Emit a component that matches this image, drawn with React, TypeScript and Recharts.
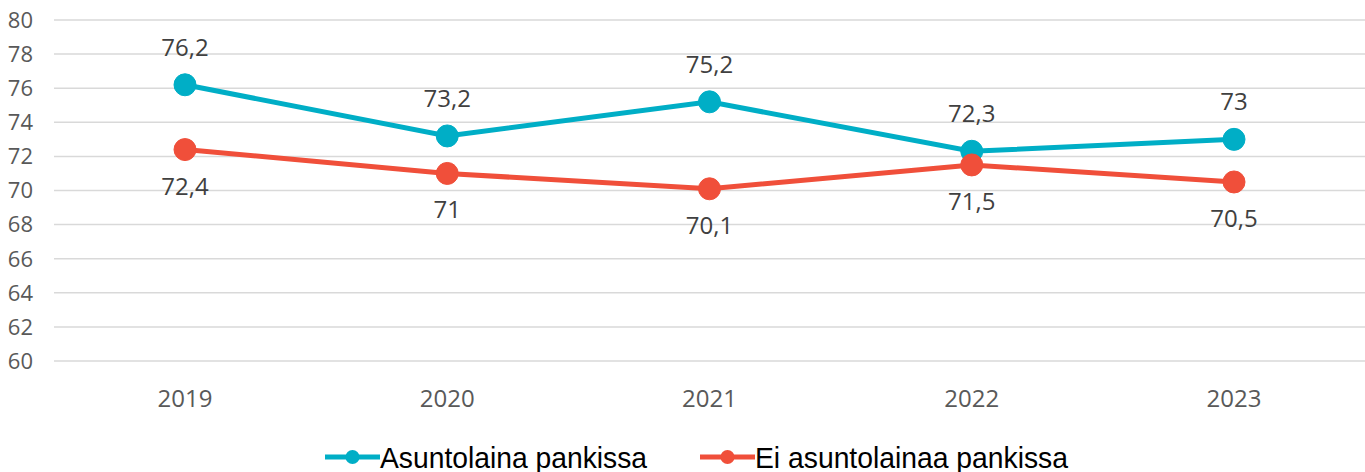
import {
  LineChart,
  Line,
  XAxis,
  YAxis,
  CartesianGrid,
  Legend,
  LabelList,
} from "recharts";

const years = ["2019", "2020", "2021", "2022", "2023"];
const withLoan = [76.2, 73.2, 75.2, 72.3, 73];
const withoutLoan = [72.4, 71, 70.1, 71.5, 70.5];
const yTicks = [60, 62, 64, 66, 68, 70, 72, 74, 76, 78, 80];

const TEAL = "#00AEC6";
const RED = "#F04F3A";
const FONT = "'Open Sans', 'Noto Sans', sans-serif";

const data = years.map((year, i) => ({
  year,
  loan: withLoan[i],
  noLoan: withoutLoan[i],
}));

// finnish decimal comma
const fmt = (v: any) => String(v).replace(".", ",");

// legend entries: x of the marker start and the text width in the reference
const legendItems = [
  { name: "Asuntolaina pankissa", color: TEAL, x: 325, w: 267 },
  { name: "Ei asuntolainaa pankissa", color: RED, x: 700, w: 313 },
];

function LegendContent() {
  return (
    <svg width={1365} height={61} style={{ display: "block", overflow: "visible" }}>
      {legendItems.map((item) => (
        <g key={item.name}>
          <line
            x1={item.x}
            x2={item.x + 55}
            y1={46}
            y2={46}
            stroke={item.color}
            strokeWidth={5}
          />
          <circle cx={item.x + 27.5} cy={46} r={7} fill={item.color} />
          <text
            x={item.x + 55}
            y={57}
            fontFamily="'Liberation Sans', Arial, sans-serif"
            fontSize={30}
            fill="#000"
            textLength={item.w}
            lengthAdjust="spacingAndGlyphs"
          >
            {item.name}
          </text>
        </g>
      ))}
    </svg>
  );
}

export default function App() {
  return (
    <div style={{ position: "absolute", left: 0, top: 0 }}>
      <LineChart
        width={1365}
        height={472}
        data={data}
        margin={{ top: 20, right: 0, bottom: 0, left: 0 }}
      >
        <CartesianGrid vertical={false} stroke="#d9d9d9" strokeWidth={1.5} />
        <XAxis
          dataKey="year"
          height={50}
          axisLine={false}
          tickLine={false}
          tickSize={0}
          tickMargin={29}
          padding={{ left: 131, right: 131 }}
          tick={{ fill: "#595959", fontSize: 24, fontFamily: FONT }}
        />
        <YAxis
          width={54}
          domain={[60, 80]}
          ticks={yTicks}
          interval={0}
          axisLine={false}
          tickLine={false}
          tickSize={0}
          tickMargin={21}
          tick={{ fill: "#595959", fontSize: 22, fontFamily: FONT }}
        />
        <Legend
          verticalAlign="bottom"
          content={<LegendContent />}
          wrapperStyle={{ height: 61 }}
        />
        <Line
          dataKey="loan"
          name="Asuntolaina pankissa"
          stroke={TEAL}
          strokeWidth={5}
          dot={{ r: 11, fill: TEAL, stroke: TEAL, strokeWidth: 1 }}
          isAnimationActive={false}
        >
          <LabelList
            dataKey="loan"
            position="top"
            offset={29}
            formatter={fmt}
            style={{ fill: "#404040", fontSize: 24, fontFamily: FONT }}
          />
        </Line>
        <Line
          dataKey="noLoan"
          name="Ei asuntolainaa pankissa"
          stroke={RED}
          strokeWidth={5}
          dot={{ r: 11, fill: RED, stroke: RED, strokeWidth: 1 }}
          isAnimationActive={false}
        >
          <LabelList
            dataKey="noLoan"
            position="bottom"
            offset={28}
            formatter={fmt}
            style={{ fill: "#404040", fontSize: 24, fontFamily: FONT }}
          />
        </Line>
      </LineChart>
    </div>
  );
}
